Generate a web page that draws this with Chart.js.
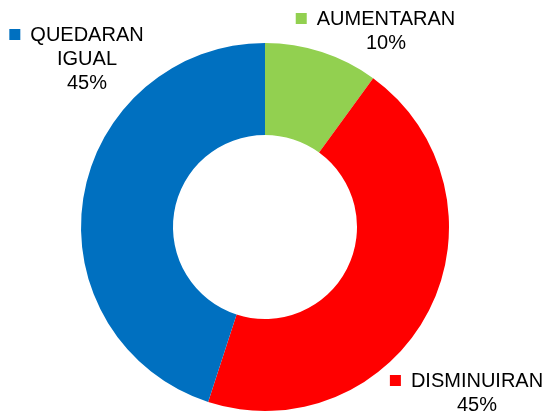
<!DOCTYPE html>
<html>
<head>
<meta charset="utf-8">
<script src="https://cdn.jsdelivr.net/npm/chart.js@4/dist/chart.umd.min.js"></script>
<style>
html,body{margin:0;padding:0;background:#fff;}
#wrap{width:548px;height:414px;position:relative;}
</style>
</head>
<body>
<div id="wrap"><canvas id="c" width="548" height="414"></canvas></div>
<script>
const categories = ["AUMENTARAN", "DISMINUIRAN", "QUEDARAN IGUAL"];
const labelLines = [["AUMENTARAN"], ["DISMINUIRAN"], ["QUEDARAN", "IGUAL"]];
const values = [10, 45, 45];
const percentLabels = ["10%", "45%", "45%"];
const colors = ["#92D050", "#FF0000", "#0070C0"];
// label anchor (center x of text block, y of first line center)
const labelPos = [[386, 18], [477, 380], [87, 34]];

const labelPlugin = {
  id: 'sliceLabels',
  afterDatasetsDraw(chart) {
    const ctx = chart.ctx;
    ctx.save();
    ctx.font = '20px "Liberation Sans", Arial, sans-serif';
    ctx.fillStyle = '#000';
    ctx.textAlign = 'center';
    ctx.textBaseline = 'middle';
    const lh = 24;
    categories.forEach((cat, i) => {
      const [cx, cy] = labelPos[i];
      const lines = labelLines[i].concat([percentLabels[i]]);
      const w0 = ctx.measureText(lines[0]).width;
      // legend key square
      ctx.fillStyle = colors[i];
      ctx.fillRect(cx - w0 / 2 - 21, cy - 5, 11, 11);
      ctx.fillStyle = '#000';
      lines.forEach((ln, k) => {
        ctx.fillText(ln, cx, cy + k * lh + 1);
      });
    });
    ctx.restore();
  }
};

new Chart(document.getElementById('c'), {
  type: 'doughnut',
  data: {
    labels: categories,
    datasets: [{
      data: values,
      backgroundColor: colors,
      borderWidth: 0,
      hoverOffset: 0
    }]
  },
  options: {
    responsive: false,
    animation: false,
    cutout: '50%',
    layout: { padding: { left: 81, right: 99, top: 43, bottom: 3 } },
    plugins: {
      legend: { display: false },
      tooltip: { enabled: false }
    }
  },
  plugins: [labelPlugin]
});
</script>
</body>
</html>
